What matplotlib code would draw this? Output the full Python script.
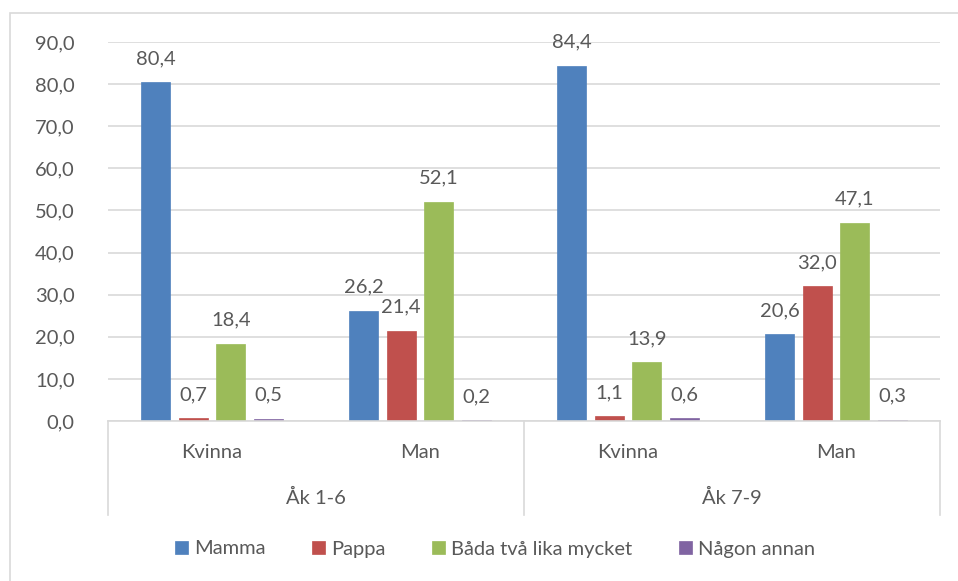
import matplotlib.pyplot as plt
from matplotlib.patches import Rectangle

groups = ['Åk 1-6', 'Åk 7-9']
genders = ['Kvinna', 'Man', 'Kvinna', 'Man']
series = ['Mamma', 'Pappa', 'Båda två lika mycket', 'Någon annan']
mamma = [80.4, 26.2, 84.4, 20.6]
pappa = [0.7, 21.4, 1.1, 32.0]
bada = [18.4, 52.1, 13.9, 47.1]
nagon = [0.5, 0.2, 0.6, 0.3]
yticks = [0, 10, 20, 30, 40, 50, 60, 70, 80, 90]

colors = ['#4F81BD', '#C0504D', '#9BBB59', '#8064A2']
text_color = '#595959'
line_color = '#D9D9D9'
fs = 14.5

plt.rcParams['font.family'] = ['Lato', 'DejaVu Sans']

W, H = 958, 581
fig = plt.figure(figsize=(W / 100, H / 100), dpi=100)
left, right, top, bottom = 108, 940, 42, 421
ax = fig.add_axes([left / W, 1 - bottom / H, (right - left) / W, (bottom - top) / H])

# outer chart border
fig.patches.append(Rectangle((10 / W, -0.1), 1.2, 1 - 13 / H + 0.1, transform=fig.transFigure,
                             fill=False, edgecolor=line_color, linewidth=1.2))

x = list(range(len(genders)))
bw = 0.139
stride = 0.18
for i, (vals, col) in enumerate(zip([mamma, pappa, bada, nagon], colors)):
    pos = [xi + (i - 1.5) * stride for xi in x]
    ax.bar(pos, vals, width=bw, color=col, edgecolor=col, linewidth=0.5, zorder=3, label=series[i])
    for p, v in zip(pos, vals):
        ax.annotate(f'{v:.1f}'.replace('.', ','), (p, v), xytext=(0, 17), textcoords='offset points',
                    ha='center', va='center', fontsize=fs, color=text_color)

ax.set_xlim(-0.5, 3.5)
ax.set_ylim(0, 90)
ax.set_yticks(yticks)
ax.set_yticklabels([f'{t:.1f}'.replace('.', ',') for t in yticks])
ax.tick_params(axis='y', length=0, pad=24, labelsize=fs, labelcolor=text_color)
ax.set_xticks([])
ax.grid(axis='y', color=line_color, linewidth=1.2, zorder=0)
for s in ax.spines.values():
    s.set_visible(False)

# multi-level category axis
upp = 90 / (bottom - top)  # data units per pixel
ax.plot([-0.5, 3.5], [0, 0], color=line_color, linewidth=1.2, clip_on=False, zorder=4)
for xv in [-0.5, 1.5, 3.5]:
    ax.plot([xv, xv], [0, -94 * upp], color=line_color, linewidth=1.2, clip_on=False)
for xi, g in zip(x, genders):
    ax.text(xi, -31 * upp, g, ha='center', va='center', fontsize=fs, color=text_color)
for gi, g in enumerate(groups):
    ax.text(0.5 + 2 * gi, -77 * upp, g, ha='center', va='center', fontsize=fs, color=text_color)

leg = fig.legend(loc='center', bbox_to_anchor=(495 / W, 1 - 549 / H), ncol=4, frameon=False,
                 fontsize=fs, handlelength=0.65, handleheight=0.65, handletextpad=0.3, columnspacing=2.3)
for t in leg.get_texts():
    t.set_color(text_color)

fig.savefig('out.png', dpi=100)
